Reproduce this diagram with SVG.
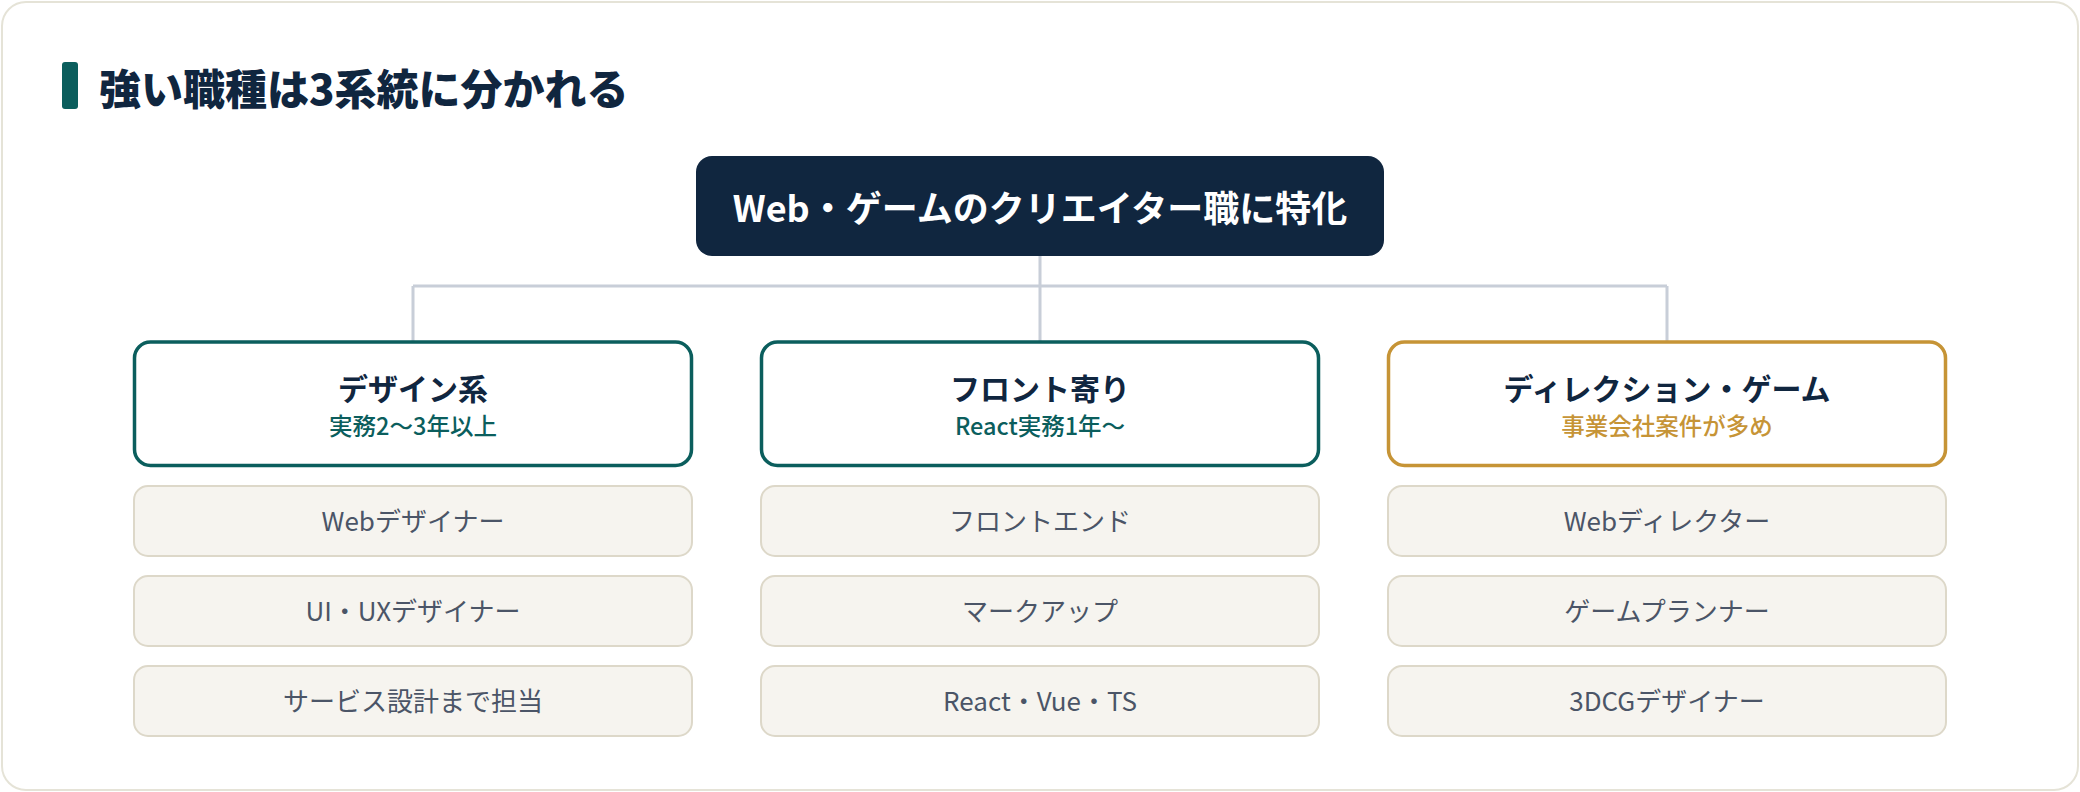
<svg xmlns="http://www.w3.org/2000/svg" width="2080" height="792" viewBox="0 0 2080 792">
<style>
text{font-family:"Noto Sans CJK JP","Noto Sans",sans-serif;text-anchor:middle}
.title{font-size:42px;font-weight:900;fill:#10263f;text-anchor:start}
.root-t{font-size:36px;font-weight:700;fill:#ffffff}
.cat{fill:#ffffff;stroke-width:3.5}
.teal{stroke:#0b5e5d}
.gold{stroke:#c69436}
.cat-t{font-size:30px;font-weight:700;fill:#10263f}
.sub{font-size:23.5px;font-weight:500}
.sub-teal{fill:#0b5e5d}
.sub-gold{fill:#c69436}
.item{fill:#f6f4ef;stroke:#ddd8c9;stroke-width:2}
.item-t{font-size:26px;font-weight:400;fill:#4b5567}
.conn{fill:none;stroke:#c8ced8;stroke-width:3}
</style>
<rect x="2" y="2" width="2076" height="788" rx="24" fill="#ffffff" stroke="#e5e3d7" stroke-width="2"/>
<g id="heading">
<rect x="62" y="62" width="16" height="47" rx="3" fill="#0b5e5d"/>
<text class="title" x="99" y="105">強い職種は3系統に分かれる</text>
</g>
<g id="connectors">
<path class="conn" d="M1040 256 V342 M413 286 H1667 M413 286 V342 M1667 286 V342"/>
</g>
<g id="root">
<rect x="696" y="156" width="688" height="100" rx="16" fill="#10263f"/>
<text class="root-t" x="1040" y="222">Web・ゲームのクリエイター職に特化</text>
</g>
<g id="cat-design">
<rect class="cat teal" x="134.5" y="342" width="557" height="123.5" rx="16"/>
<text class="cat-t" x="413" y="400">デザイン系</text>
<text class="sub sub-teal" x="413" y="435">実務2〜3年以上</text>
</g>
<g id="cat-front">
<rect class="cat teal" x="761.5" y="342" width="557" height="123.5" rx="16"/>
<text class="cat-t" x="1040" y="400">フロント寄り</text>
<text class="sub sub-teal" x="1040" y="435">React実務1年〜</text>
</g>
<g id="cat-direction">
<rect class="cat gold" x="1388.5" y="342" width="557" height="123.5" rx="16"/>
<text class="cat-t" x="1667" y="400">ディレクション・ゲーム</text>
<text class="sub sub-gold" x="1667" y="435">事業会社案件が多め</text>
</g>
<g id="item-web-designer"><rect class="item" x="134" y="486" width="558" height="70" rx="14"/><text class="item-t" x="413" y="531">Webデザイナー</text></g>
<g id="item-uiux"><rect class="item" x="134" y="576" width="558" height="70" rx="14"/><text class="item-t" x="413" y="621">UI・UXデザイナー</text></g>
<g id="item-service"><rect class="item" x="134" y="666" width="558" height="70" rx="14"/><text class="item-t" x="413" y="711">サービス設計まで担当</text></g>
<g id="item-frontend"><rect class="item" x="761" y="486" width="558" height="70" rx="14"/><text class="item-t" x="1040" y="531">フロントエンド</text></g>
<g id="item-markup"><rect class="item" x="761" y="576" width="558" height="70" rx="14"/><text class="item-t" x="1040" y="621">マークアップ</text></g>
<g id="item-react"><rect class="item" x="761" y="666" width="558" height="70" rx="14"/><text class="item-t" x="1040" y="711">React・Vue・TS</text></g>
<g id="item-web-director"><rect class="item" x="1388" y="486" width="558" height="70" rx="14"/><text class="item-t" x="1667" y="531">Webディレクター</text></g>
<g id="item-planner"><rect class="item" x="1388" y="576" width="558" height="70" rx="14"/><text class="item-t" x="1667" y="621">ゲームプランナー</text></g>
<g id="item-3dcg"><rect class="item" x="1388" y="666" width="558" height="70" rx="14"/><text class="item-t" x="1667" y="711">3DCGデザイナー</text></g>
</svg>
